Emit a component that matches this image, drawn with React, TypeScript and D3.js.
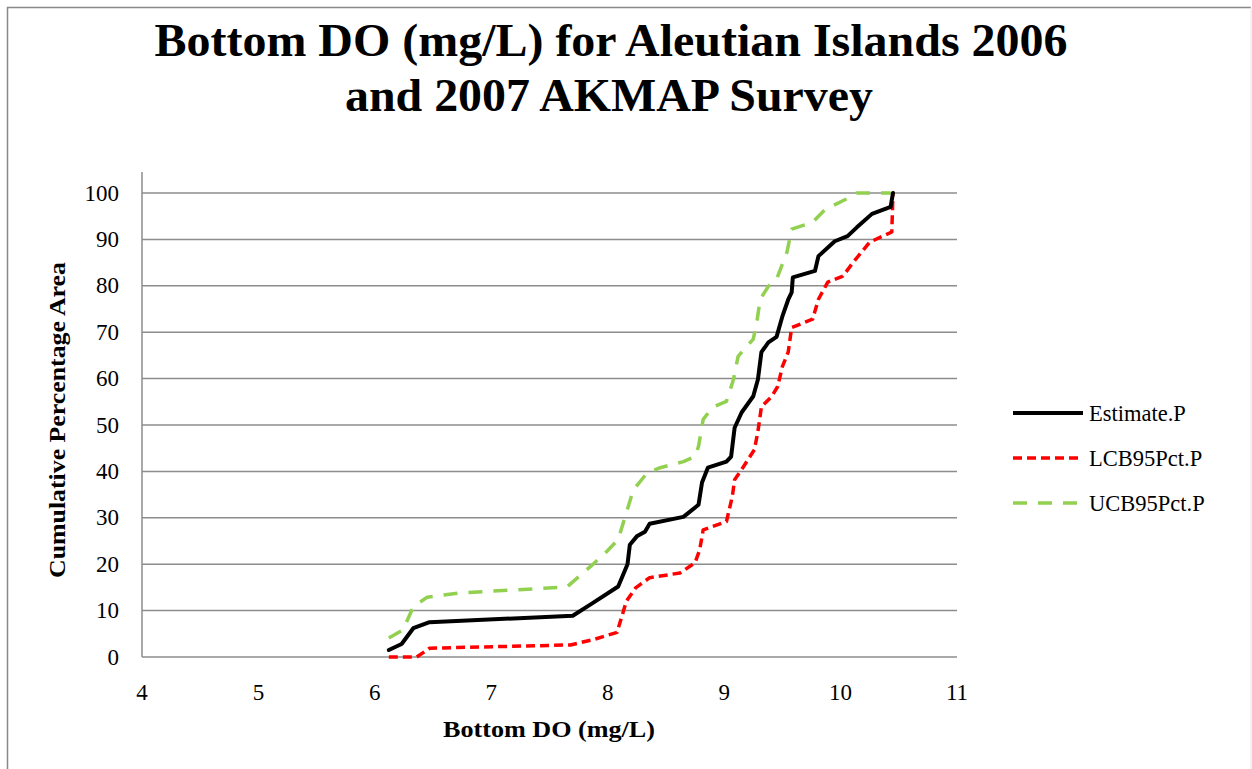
import React from "react";
import * as d3 from "d3";

// Cumulative distribution of bottom dissolved oxygen (mg/L)
const estimateDO = [6.12, 6.23, 6.33, 6.47, 7.7, 7.87, 8.09, 8.17, 8.19, 8.25, 8.32, 8.36, 8.65, 8.78, 8.81, 8.86, 9.02, 9.06, 9.09, 9.15, 9.25, 9.29, 9.32, 9.38, 9.45, 9.5, 9.55, 9.58, 9.59, 9.78, 9.81, 9.95, 10.06, 10.14, 10.27, 10.43, 10.45];
const estimatePct = [1.5, 2.8, 6.2, 7.5, 8.9, 11.6, 15.2, 20, 24.2, 26, 27, 28.7, 30.2, 32.8, 37.6, 40.8, 42.1, 43.2, 49.4, 52.7, 56.2, 59.8, 65.7, 67.8, 69, 73.4, 77, 78.6, 81.8, 83.2, 86.4, 89.6, 90.7, 92.6, 95.5, 97, 100];

const lcbDO = [6.12, 6.36, 6.47, 7.68, 7.87, 8.08, 8.16, 8.24, 8.36, 8.62, 8.75, 8.79, 8.82, 9.02, 9.07, 9.09, 9.16, 9.26, 9.29, 9.32, 9.41, 9.46, 9.5, 9.55, 9.58, 9.76, 9.81, 9.89, 10.02, 10.11, 10.25, 10.44, 10.45];
const lcbPct = [0, 0, 1.9, 2.6, 3.7, 5.3, 12, 14.9, 17.1, 18.1, 20.3, 23.1, 27.4, 29.2, 34.6, 38.2, 40.8, 44.7, 48.6, 53.9, 56.2, 58.3, 62.6, 65.7, 71, 72.8, 77.1, 80.8, 82.1, 85.1, 89.4, 91.6, 100];

const ucbDO = [6.12, 6.24, 6.33, 6.45, 6.73, 7.65, 7.87, 7.99, 8.09, 8.16, 8.22, 8.34, 8.45, 8.65, 8.75, 8.78, 8.82, 8.9, 9.02, 9.08, 9.12, 9.25, 9.28, 9.31, 9.38, 9.45, 9.54, 9.58, 9.76, 9.87, 10.05, 10.14, 10.43];
const ucbPct = [4.1, 5.8, 10.8, 12.9, 13.8, 15.1, 19.9, 22.7, 25.3, 31.1, 36, 39.7, 40.8, 42.1, 43.2, 45.4, 51.2, 53.8, 55.1, 59.8, 64.8, 68.5, 72.1, 77.1, 79.9, 81.4, 87.3, 92.2, 93.7, 96.5, 98.7, 100, 100];

const xTicks = [4, 5, 6, 7, 8, 9, 10, 11];
const yTicks = [0, 10, 20, 30, 40, 50, 60, 70, 80, 90, 100];

const seriesNames = ["Estimate.P", "LCB95Pct.P", "UCB95Pct.P"];

const W = 1252;
const H = 769;
const FONT = "'Liberation Serif', 'Times New Roman', serif";

export default function App() {
  const x = d3.scaleLinear().domain([4, 11]).range([142, 957]);
  const y = d3.scaleLinear().domain([0, 100]).range([657, 193]);

  const line = d3
    .line<[number, number]>()
    .x((d) => x(d[0]))
    .y((d) => y(d[1]));

  const zip = (a: number[], b: number[]) => a.map((v, i) => [v, b[i]] as [number, number]);

  const series = [
    { name: seriesNames[0], pts: zip(estimateDO, estimatePct), color: "#000000", width: 4, dash: undefined as string | undefined },
    { name: seriesNames[1], pts: zip(lcbDO, lcbPct), color: "#FF0000", width: 3.5, dash: "9 5" },
    { name: seriesNames[2], pts: zip(ucbDO, ucbPct), color: "#92D050", width: 3.5, dash: "14 11" },
  ];
  const drawOrder = [series[2], series[1], series[0]];

  return (
    <svg
      width={W}
      height={H}
      style={{ position: "absolute", left: 0, top: 0, background: "#fff" }}
      fontFamily={FONT}
    >
      <rect x={0} y={0} width={W} height={H} fill="#fff" />
      {/* chart frame */}
      <path d={`M7.5,${H + 2} V7.5 H1251`} fill="none" stroke="#898989" strokeWidth={1.5} />
      <line x1={1251} y1={7.5} x2={1251} y2={H} stroke="#e6e6e6" strokeWidth={1} />

      {/* title */}
      <text x={611} y={56} textAnchor="middle" fontSize={46} fontWeight="bold" textLength={913} lengthAdjust="spacingAndGlyphs">
        Bottom DO (mg/L) for Aleutian Islands 2006
      </text>
      <text x={609} y={111} textAnchor="middle" fontSize={46} fontWeight="bold" textLength={528} lengthAdjust="spacingAndGlyphs">
        and 2007 AKMAP Survey
      </text>

      {/* gridlines */}
      {yTicks.filter((t) => t > 0).map((t) => (
        <line key={t} x1={x(4)} x2={x(11)} y1={y(t)} y2={y(t)} stroke="#8c8c8c" strokeWidth={1.5} />
      ))}

      {/* axes */}
      <line x1={x(4)} x2={x(4)} y1={172} y2={y(0)} stroke="#8c8c8c" strokeWidth={1.5} />
      <line x1={x(4)} x2={x(11)} y1={y(0)} y2={y(0)} stroke="#8c8c8c" strokeWidth={1.5} />

      {yTicks.map((t) => (
        <text key={t} x={119} y={y(t) + 7.5} textAnchor="end" fontSize={23}>
          {t}
        </text>
      ))}
      {xTicks.map((t) => (
        <text key={t} x={x(t)} y={700} textAnchor="middle" fontSize={23}>
          {t}
        </text>
      ))}

      <text x={549} y={737} textAnchor="middle" fontSize={23} fontWeight="bold" textLength={212} lengthAdjust="spacingAndGlyphs">
        Bottom DO (mg/L)
      </text>
      <text
        transform={`translate(65,420) rotate(-90)`}
        textAnchor="middle"
        fontSize={23}
        fontWeight="bold"
        textLength={316}
        lengthAdjust="spacingAndGlyphs"
      >
        Cumulative Percentage Area
      </text>

      {/* series */}
      {drawOrder.map((s) => (
        <path
          key={s.name}
          d={line(s.pts) || ""}
          fill="none"
          stroke={s.color}
          strokeWidth={s.width}
          strokeDasharray={s.dash}
          strokeLinejoin="round"
          strokeLinecap={s.dash ? "butt" : "round"}
        />
      ))}

      {/* legend */}
      {series.map((s, i) => (
        <g key={s.name} transform={`translate(1013,${413 + i * 45})`}>
          <line x1={0} x2={70} y1={0} y2={0} stroke={s.color} strokeWidth={s.width} strokeDasharray={s.dash} />
          <text x={76} y={7.5} fontSize={22.5}>
            {s.name}
          </text>
        </g>
      ))}
    </svg>
  );
}
